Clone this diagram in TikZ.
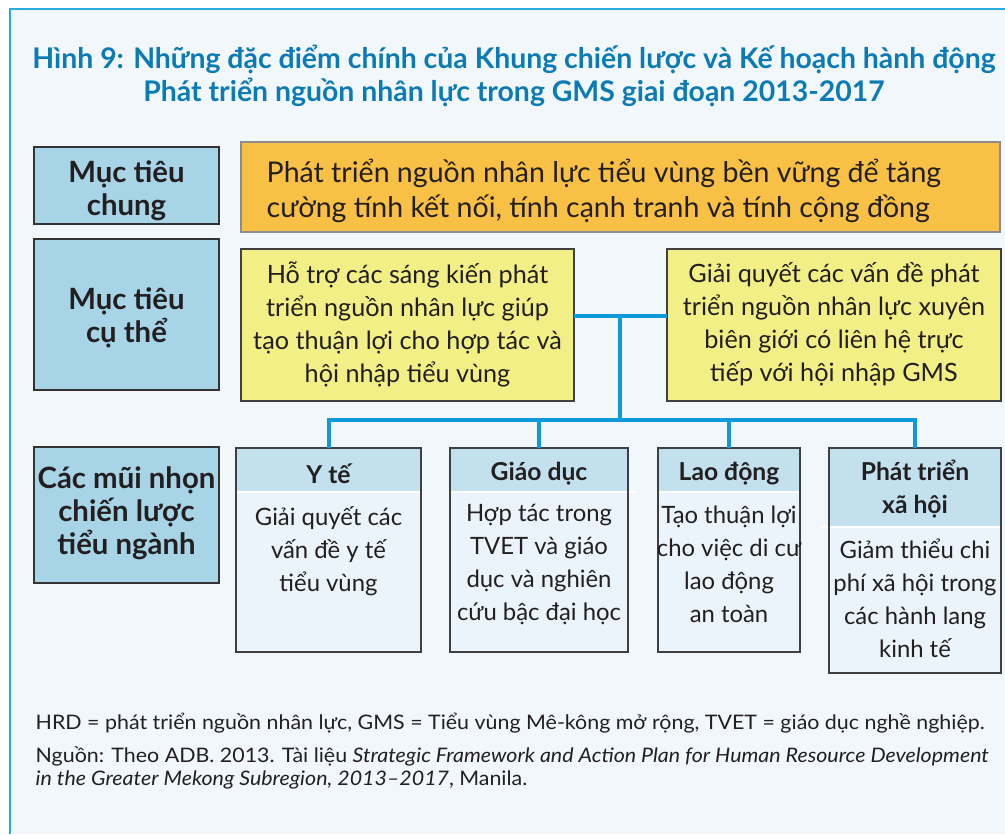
\documentclass[tikz,border=0pt]{standalone}
\usepackage{fontspec}
\setmainfont{Lato}
\newfontfamily\notefont[FakeStretch=1.07]{Lato}
\usetikzlibrary{fit}
\definecolor{framebg}{HTML}{F2F7FC}
\definecolor{framecyan}{HTML}{29ABE2}
\definecolor{titleblue}{HTML}{0B7BB5}
\definecolor{txt}{HTML}{231F20}
\definecolor{leftfill}{HTML}{A8D4E8}
\definecolor{orangefill}{HTML}{F8C045}
\definecolor{yellowfill}{HTML}{F1EF85}
\definecolor{hdrfill}{HTML}{C3E0EE}
\definecolor{bodyfill}{HTML}{EBF4FA}
\definecolor{connc}{HTML}{0E9ADA}
\tikzset{
  frect/.style={inner sep=0pt, outer sep=0pt},
  leftbox/.style={frect, fill=leftfill, draw=black!80, line width=1.3pt},
  orangebox/.style={frect, fill=orangefill, draw=black!45, line width=1.2pt},
  yellowbox/.style={frect, fill=yellowfill, draw=black!75, line width=1.2pt},
  bodybox/.style={frect, fill=bodyfill},
  hdrbox/.style={frect, fill=hdrfill},
  border/.style={draw=black!75, line width=1.2pt},
  lefttxt/.style={text=txt, align=center, font=\fontsize{22}{24.75}\selectfont\bfseries},
  yellowtxt/.style={text=txt, align=center, font=\fontsize{18.9}{24.75}\selectfont},
  bodytxt/.style={text=txt, align=center, font=\fontsize{17.9}{24.75}\selectfont},
  hdrtxt/.style={text=txt, align=center, font=\fontsize{18.5}{24.75}\selectfont\bfseries},
  conn/.style={connc, line width=3pt},
  sepline/.style={white, line width=2pt},
}
\begin{document}
\begin{tikzpicture}[x=0.75pt,y=-0.75pt]
\useasboundingbox (0,0) rectangle (1005,834);
% frame
\fill[framebg] (10,9) rectangle (1005,834);
\draw[framecyan, line width=1.8pt] (10,834) -- (10,9) -- (1005,9);
% title
\node[text=titleblue, align=center, font=\fontsize{21.3}{24.75}\selectfont\bfseries] (title) at (514,75.5)
 {Hình 9: Những đặc điểm chính của Khung chiến lược và Kế hoạch hành động\\Phát triển nguồn nhân lực trong GMS giai đoạn 2013-2017};
% left column
\node[leftbox, fit={(34,147) (219,224)}] (l1) {};
\node[lefttxt] (l1t) at (126.5,190.8) {Mục tiêu\\chung};
\node[leftbox, fit={(34,239) (219,390)}] (l2) {};
\node[lefttxt] (l2t) at (126.5,318.3) {Mục tiêu\\cụ thể};
\node[leftbox, fit={(34,447) (219,583)}] (l3) {};
\node[lefttxt] (l3t) at (126.5,513.3) {Các mũi nhọn\\chiến lược\\tiểu ngành};
% orange
\node[orangebox, fit={(241,142) (1000,232)}] (og) {};
\node[text=txt, align=left, anchor=west, font=\fontsize{21.4}{26.25}\selectfont] (ogt) at (262,191)
 {Phát triển nguồn nhân lực tiểu vùng bền vững để tăng\\cường tính kết nối, tính cạnh tranh và tính cộng đồng};
% yellow
\node[yellowbox, fit={(241,249) (574,401)}] (ya) {};
\node[yellowtxt] (yat) at (407.5,324) {Hỗ trợ các sáng kiến phát\\triển nguồn nhân lực giúp\\tạo thuận lợi cho hợp tác và\\hội nhập tiểu vùng};
\node[yellowbox, fit={(667,249) (1001,401)}] (yb) {};
\node[yellowtxt] (ybt) at (834,324) {Giải quyết các vấn đề phát\\triển nguồn nhân lực xuyên\\biên giới có liên hệ trực\\tiếp với hội nhập GMS};
% bottom boxes: Y te
\node[bodybox, fit={(236,448) (421,652)}] (yte) {};
\node[hdrbox, fit={(236,448) (421,492)}] (yteh) {};
\node[hdrtxt] (ytet) at ([yshift=-2.5pt]yteh.center) {Y tế};
\draw[sepline] (yteh.south west) -- (yteh.south east);
\draw[border] (yte.south west) rectangle (yte.north east);
\node[bodytxt] (yteb) at (328.5,551) {Giải quyết các\\vấn đề y tế\\tiểu vùng};
% Giao duc
\node[bodybox, fit={(450,448) (628,652)}] (gd) {};
\node[hdrbox, fit={(450,448) (628,492)}] (gdh) {};
\node[hdrtxt] (gdt) at ([yshift=-2.5pt]gdh.center) {Giáo dục};
\draw[sepline] (gdh.south west) -- ([xshift=5pt]gdh.south east);
\draw[border] (gd.south west) rectangle (gd.north east);
\node[bodytxt] (gdb) at (539,564.5) {Hợp tác trong\\TVET và giáo\\dục và nghiên\\cứu bậc đại học};
% Lao dong
\node[bodybox, fit={(658,448) (800,652)}] (ld) {};
\node[hdrbox, fit={(658,448) (800,492)}] (ldh) {};
\node[hdrtxt] (ldt) at ([yshift=-2.5pt]ldh.center) {Lao động};
\draw[sepline] (ldh.south west) -- (ldh.south east);
\draw[border] (ld.south west) rectangle (ld.north east);
\node[bodytxt] (ldb) at (729,564.5) {Tạo thuận lợi\\cho việc di cư\\lao động\\an toàn};
% Phat trien xa hoi
\node[bodybox, fit={(829,448) (1001,673)}] (px) {};
\node[hdrbox, fit={(829,448) (1001,527)}] (pxh) {};
\node[hdrtxt] (pxt) at ([yshift=-1.5pt]pxh.center) {Phát triển\\xã hội};
\draw[sepline] ([xshift=-7pt]pxh.south west) -- (pxh.south east);
\draw[border] (px.south west) rectangle (px.north east);
\node[bodytxt] (pxb) at (915,598) {Giảm thiểu chi\\phí xã hội trong\\các hành lang\\kinh tế};
% connectors
\coordinate (hj) at (620,316);
\coordinate (bus) at (620,420);
\draw[conn] (ya.east |- hj) -- (yb.west |- hj);
\draw[conn] (hj) -- (bus);
\draw[conn, line join=miter] (yte.north) -- (yte.north |- bus) -- (px.north |- bus) -- (px.north);
\draw[conn] (gd.north |- bus) -- (gd.north);
\draw[conn] (ld.north |- bus) -- (ld.north);
% notes
\node[text=txt, anchor=west, font=\notefont\fontsize{15}{16}\selectfont] (n1) at (31,723)
 {HRD = phát triển nguồn nhân lực, GMS = Tiểu vùng Mê-kông mở rộng, TVET = giáo dục nghề nghiệp.};
\node[text=txt, anchor=north west, align=left, font=\notefont\fontsize{15}{17}\selectfont] (n2) at (31,742)
 {Nguồn: Theo ADB. 2013. Tài liệu \textit{Strategic Framework and Action Plan for Human Resource Development}\\\textit{in the Greater Mekong Subregion, 2013–2017}, Manila.};
\end{tikzpicture}
\end{document}
